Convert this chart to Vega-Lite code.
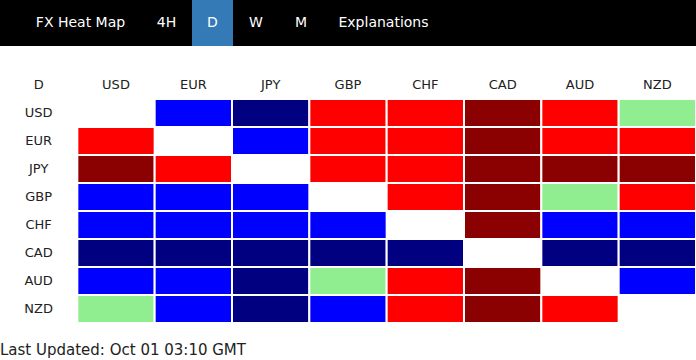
{
  "$schema": "https://vega.github.io/schema/vega-lite/v6.json",
  "padding": 0,
  "background": "white",
  "config": {"view": {"stroke": null}, "concat": {"spacing": 0}},
  "spacing": 25,
  "vconcat": [
    {
      "spacing": 0,
      "hconcat": [
        {"width": 20, "height": 46, "view": {"fill": "black"}, "data": {"values": []}, "mark": {"type": "text"}, "encoding": {}},
        {"width": 121, "height": 46, "view": {"fill": "black"}, "data": {"values": [{"tab": "FX Heat Map"}]}, "mark": {"type": "text", "color": "white", "fontSize": 14, "font": "DejaVu Sans", "baseline": "middle"}, "encoding": {"text": {"field": "tab"}}},
        {"width": 51, "height": 46, "view": {"fill": "black"}, "data": {"values": [{"tab": "4H"}]}, "mark": {"type": "text", "color": "white", "fontSize": 14, "font": "DejaVu Sans", "baseline": "middle"}, "encoding": {"text": {"field": "tab"}}},
        {"width": 41, "height": 46, "view": {"fill": "#337ab7"}, "data": {"values": [{"tab": "D"}]}, "mark": {"type": "text", "color": "white", "fontSize": 14, "font": "DejaVu Sans", "baseline": "middle"}, "encoding": {"text": {"field": "tab"}}},
        {"width": 46, "height": 46, "view": {"fill": "black"}, "data": {"values": [{"tab": "W"}]}, "mark": {"type": "text", "color": "white", "fontSize": 14, "font": "DejaVu Sans", "baseline": "middle"}, "encoding": {"text": {"field": "tab"}}},
        {"width": 44, "height": 46, "view": {"fill": "black"}, "data": {"values": [{"tab": "M"}]}, "mark": {"type": "text", "color": "white", "fontSize": 14, "font": "DejaVu Sans", "baseline": "middle"}, "encoding": {"text": {"field": "tab"}}},
        {"width": 121, "height": 46, "view": {"fill": "black"}, "data": {"values": [{"tab": "Explanations"}]}, "mark": {"type": "text", "color": "white", "fontSize": 14, "font": "DejaVu Sans", "baseline": "middle"}, "encoding": {"text": {"field": "tab"}}},
        {"width": 252, "height": 46, "view": {"fill": "black"}, "data": {"values": []}, "mark": {"type": "text"}, "encoding": {}}
      ]
    },
    {
      "width": 696,
      "height": 252,
      "title": {"text": "Last Updated: Oct 01 03:10 GMT", "orient": "bottom", "anchor": "start", "frame": "group", "font": "DejaVu Sans", "fontSize": 15, "fontWeight": "normal", "color": "#222", "baseline": "alphabetic", "offset": 31},
      "layer": [
        {
          "data": {"values": [
            {"base": "USD", "quote": "EUR", "level": "-1"}, {"base": "USD", "quote": "JPY", "level": "-2"}, {"base": "USD", "quote": "GBP", "level": "+1"}, {"base": "USD", "quote": "CHF", "level": "+1"}, {"base": "USD", "quote": "CAD", "level": "+2"}, {"base": "USD", "quote": "AUD", "level": "+1"}, {"base": "USD", "quote": "NZD", "level": "0"},
            {"base": "EUR", "quote": "USD", "level": "+1"}, {"base": "EUR", "quote": "JPY", "level": "-1"}, {"base": "EUR", "quote": "GBP", "level": "+1"}, {"base": "EUR", "quote": "CHF", "level": "+1"}, {"base": "EUR", "quote": "CAD", "level": "+2"}, {"base": "EUR", "quote": "AUD", "level": "+1"}, {"base": "EUR", "quote": "NZD", "level": "+1"},
            {"base": "JPY", "quote": "USD", "level": "+2"}, {"base": "JPY", "quote": "EUR", "level": "+1"}, {"base": "JPY", "quote": "GBP", "level": "+1"}, {"base": "JPY", "quote": "CHF", "level": "+1"}, {"base": "JPY", "quote": "CAD", "level": "+2"}, {"base": "JPY", "quote": "AUD", "level": "+2"}, {"base": "JPY", "quote": "NZD", "level": "+2"},
            {"base": "GBP", "quote": "USD", "level": "-1"}, {"base": "GBP", "quote": "EUR", "level": "-1"}, {"base": "GBP", "quote": "JPY", "level": "-1"}, {"base": "GBP", "quote": "CHF", "level": "+1"}, {"base": "GBP", "quote": "CAD", "level": "+2"}, {"base": "GBP", "quote": "AUD", "level": "0"}, {"base": "GBP", "quote": "NZD", "level": "+1"},
            {"base": "CHF", "quote": "USD", "level": "-1"}, {"base": "CHF", "quote": "EUR", "level": "-1"}, {"base": "CHF", "quote": "JPY", "level": "-1"}, {"base": "CHF", "quote": "GBP", "level": "-1"}, {"base": "CHF", "quote": "CAD", "level": "+2"}, {"base": "CHF", "quote": "AUD", "level": "-1"}, {"base": "CHF", "quote": "NZD", "level": "-1"},
            {"base": "CAD", "quote": "USD", "level": "-2"}, {"base": "CAD", "quote": "EUR", "level": "-2"}, {"base": "CAD", "quote": "JPY", "level": "-2"}, {"base": "CAD", "quote": "GBP", "level": "-2"}, {"base": "CAD", "quote": "CHF", "level": "-2"}, {"base": "CAD", "quote": "AUD", "level": "-2"}, {"base": "CAD", "quote": "NZD", "level": "-2"},
            {"base": "AUD", "quote": "USD", "level": "-1"}, {"base": "AUD", "quote": "EUR", "level": "-1"}, {"base": "AUD", "quote": "JPY", "level": "-2"}, {"base": "AUD", "quote": "GBP", "level": "0"}, {"base": "AUD", "quote": "CHF", "level": "+1"}, {"base": "AUD", "quote": "CAD", "level": "+2"}, {"base": "AUD", "quote": "NZD", "level": "-1"},
            {"base": "NZD", "quote": "USD", "level": "0"}, {"base": "NZD", "quote": "EUR", "level": "-1"}, {"base": "NZD", "quote": "JPY", "level": "-2"}, {"base": "NZD", "quote": "GBP", "level": "-1"}, {"base": "NZD", "quote": "CHF", "level": "+1"}, {"base": "NZD", "quote": "CAD", "level": "+2"}, {"base": "NZD", "quote": "AUD", "level": "+1"}
          ]},
          "mark": {"type": "rect", "stroke": "white", "strokeWidth": 2},
          "encoding": {
            "x": {"field": "quote", "type": "nominal", "axis": null, "scale": {"domain": ["D", "USD", "EUR", "JPY", "GBP", "CHF", "CAD", "AUD", "NZD"], "paddingInner": 0, "paddingOuter": 0}},
            "y": {"field": "base", "type": "nominal", "axis": null, "scale": {"domain": ["header", "USD", "EUR", "JPY", "GBP", "CHF", "CAD", "AUD", "NZD"], "paddingInner": 0, "paddingOuter": 0}},
            "color": {"field": "level", "type": "nominal", "legend": null, "scale": {"domain": ["-2", "-1", "0", "+1", "+2"], "range": ["#000080", "#0000ff", "#90ee90", "#ff0000", "#8b0000"]}}
          }
        },
        {
          "data": {"values": [
            {"row": "header", "col": "D", "label": "D"},
            {"row": "header", "col": "USD", "label": "USD"}, {"row": "header", "col": "EUR", "label": "EUR"}, {"row": "header", "col": "JPY", "label": "JPY"}, {"row": "header", "col": "GBP", "label": "GBP"},
            {"row": "header", "col": "CHF", "label": "CHF"}, {"row": "header", "col": "CAD", "label": "CAD"}, {"row": "header", "col": "AUD", "label": "AUD"}, {"row": "header", "col": "NZD", "label": "NZD"},
            {"row": "USD", "col": "D", "label": "USD"}, {"row": "EUR", "col": "D", "label": "EUR"}, {"row": "JPY", "col": "D", "label": "JPY"}, {"row": "GBP", "col": "D", "label": "GBP"},
            {"row": "CHF", "col": "D", "label": "CHF"}, {"row": "CAD", "col": "D", "label": "CAD"}, {"row": "AUD", "col": "D", "label": "AUD"}, {"row": "NZD", "col": "D", "label": "NZD"}
          ]},
          "mark": {"type": "text", "font": "DejaVu Sans", "fontSize": 13, "color": "#222", "baseline": "middle"},
          "encoding": {
            "x": {"field": "col", "type": "nominal", "axis": null},
            "y": {"field": "row", "type": "nominal", "axis": null},
            "text": {"field": "label"}
          }
        }
      ]
    }
  ]
}
